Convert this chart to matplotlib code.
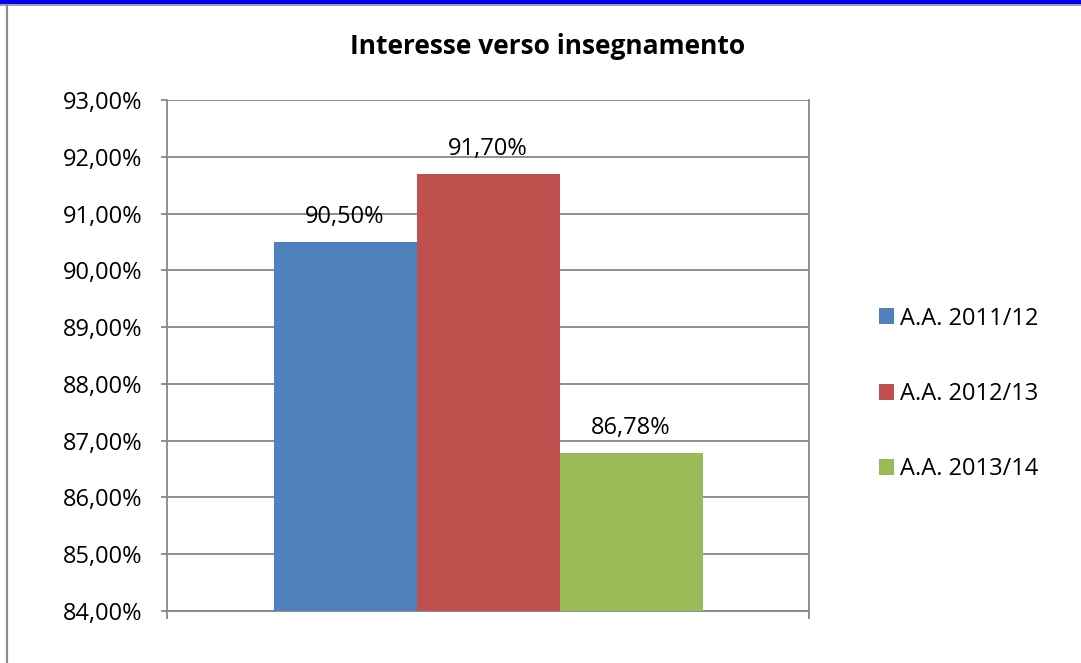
import matplotlib
matplotlib.use("Agg")
import matplotlib.pyplot as plt
from matplotlib.lines import Line2D
from matplotlib.patches import Rectangle, Patch

title = "Interesse verso insegnamento"
series = ["A.A. 2011/12", "A.A. 2012/13", "A.A. 2013/14"]
values = [90.50, 91.70, 86.78]
colors = ["#4F81BD", "#C0504D", "#9BBB59"]
y_ticks = [84, 85, 86, 87, 88, 89, 90, 91, 92, 93]

FONT = "Open Sans"
plt.rcParams['font.family'] = [FONT, 'DejaVu Sans']

W, H = 1081, 663
fig = plt.figure(figsize=(W / 100, H / 100), dpi=100)
fig.patch.set_facecolor("white")

def fx(px):
    return px / W

def fy(py):
    return 1 - py / H

# frame decorations
fig.add_artist(Rectangle((0, fy(3.5)), 1, 3.5 / H, transform=fig.transFigure,
                         facecolor="#0000FF", edgecolor="none"))
fig.add_artist(Line2D([0, 1], [fy(4.5), fy(4.5)], transform=fig.transFigure,
                      color="#A0A0A0", lw=1.4))
fig.add_artist(Line2D([fx(7), fx(7)], [fy(4.5), 0], transform=fig.transFigure,
                      color="#8C8C8C", lw=1.6))

left, right, top, bottom = 167, 809, 100, 611
ax = fig.add_axes([fx(left), fy(bottom), (right - left) / W, (bottom - top) / H])

gray = "#868686"
bw = 143 / 642
offsets = [-bw, 0, bw]
for v, c, o, s in zip(values, colors, offsets, series):
    ax.bar(o, v - 84, bottom=84, width=bw, color=c, label=s, zorder=3)
    ax.annotate(f"{v:.2f}%".replace(".", ","), xy=(o, v), xytext=(0, 13.5),
                textcoords="offset points", ha="center", va="baseline",
                fontsize=17, color="black", zorder=4)

ax.set_xlim(-0.5, 0.5)
ax.set_ylim(84, 93)
ax.set_yticks(y_ticks)
ax.set_yticklabels([f"{t:.2f}%".replace(".", ",") for t in y_ticks], fontsize=17)
ax.set_xticks([-0.5, 0.5])
ax.set_xticklabels(["", ""])
ax.tick_params(axis="y", length=4.5, width=1.3, color=gray, pad=13)
ax.tick_params(axis="x", length=6, width=1.3, color=gray)
ax.grid(axis="y", color=gray, lw=1.3, zorder=1)
for sp in ["left", "bottom", "right", "top"]:
    ax.spines[sp].set_color(gray)
    ax.spines[sp].set_linewidth(1.3)
ax.spines["top"].set_visible(False)

fig.text(fx(548), fy(47), title, ha="center", va="center", fontsize=19,
         fontweight="bold", color="black")

handles = [Patch(facecolor=c, edgecolor="none") for c in colors]
leg = fig.legend(handles, series, loc="center left",
                 bbox_to_anchor=(fx(879), fy(394)), frameon=False,
                 fontsize=17, handlelength=0.64, handleheight=0.64,
                 handletextpad=0.25, labelspacing=2.18, borderpad=0,
                 borderaxespad=0)

fig.savefig("out.png", dpi=100)
